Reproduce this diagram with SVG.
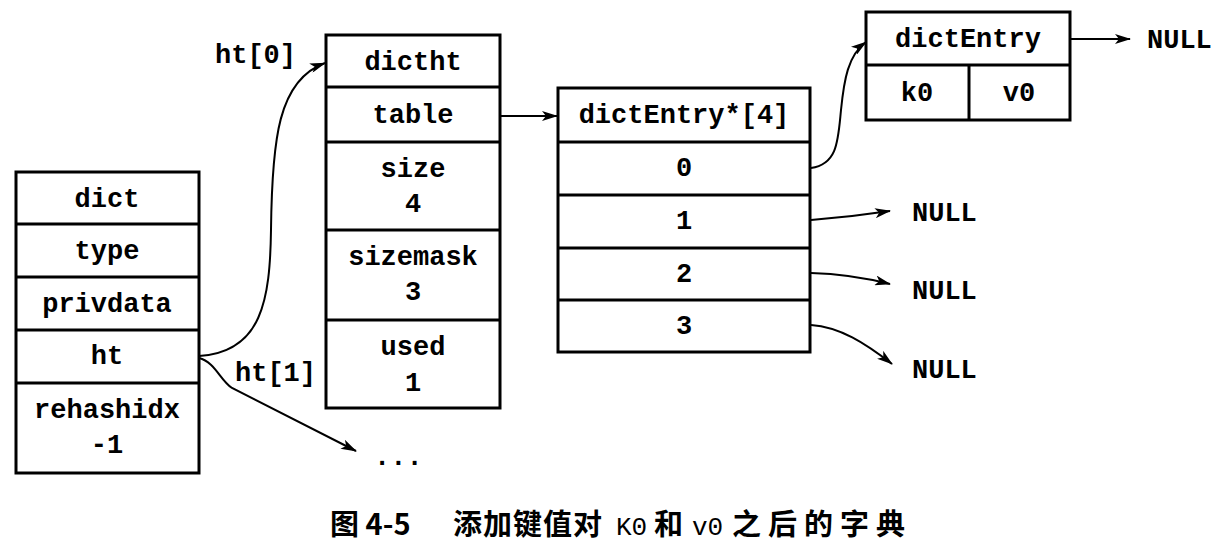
<svg xmlns="http://www.w3.org/2000/svg" width="1222" height="547" viewBox="0 0 1222 547">
<style>
.box{fill:#fff;stroke:#000;stroke-width:3}
.sep{stroke:#000;stroke-width:3}
.t{font-family:"Liberation Mono","DejaVu Sans Mono",monospace;font-size:27px;font-weight:bold;fill:#000;text-anchor:middle}
.l{font-family:"Liberation Mono","DejaVu Sans Mono",monospace;font-size:27px;font-weight:bold;fill:#000}
.c{fill:none;stroke:#000;stroke-width:2}
.cap{font-family:"Noto Sans CJK SC","Noto Sans",sans-serif;font-size:29px;font-weight:bold;fill:#000}
.capm{font-family:"Liberation Mono",monospace;font-size:26px;font-weight:normal;fill:#000}
</style>
<defs>
<marker id="ah" viewBox="0 0 16 10" refX="15" refY="5" markerWidth="16" markerHeight="10" markerUnits="userSpaceOnUse" orient="auto">
<path d="M0,0 L16,5 L0,10 L4,5 Z" fill="#000"/>
</marker>
</defs>
<rect width="1222" height="547" fill="#fff"/>

<g id="dict">
<rect class="box" x="16" y="172" width="183" height="301"/>
<line class="sep" x1="16" y1="224" x2="199" y2="224"/>
<line class="sep" x1="16" y1="277" x2="199" y2="277"/>
<line class="sep" x1="16" y1="330" x2="199" y2="330"/>
<line class="sep" x1="16" y1="383" x2="199" y2="383"/>
<text class="t" x="107" y="207">dict</text>
<text class="t" x="107" y="259">type</text>
<text class="t" x="107" y="312">privdata</text>
<text class="t" x="107" y="364">ht</text>
<text class="t" x="107" y="418">rehashidx</text>
<text class="t" x="107" y="453">-1</text>
</g>

<g id="dictht">
<rect class="box" x="326" y="35" width="174" height="373"/>
<line class="sep" x1="326" y1="87" x2="500" y2="87"/>
<line class="sep" x1="326" y1="142" x2="500" y2="142"/>
<line class="sep" x1="326" y1="230" x2="500" y2="230"/>
<line class="sep" x1="326" y1="320" x2="500" y2="320"/>
<text class="t" x="413" y="70">dictht</text>
<text class="t" x="413" y="123">table</text>
<text class="t" x="413" y="177">size</text>
<text class="t" x="413" y="212">4</text>
<text class="t" x="413" y="265">sizemask</text>
<text class="t" x="413" y="300">3</text>
<text class="t" x="413" y="355">used</text>
<text class="t" x="413" y="391">1</text>
</g>

<g id="table">
<rect class="box" x="558" y="88" width="252" height="264"/>
<line class="sep" x1="558" y1="142" x2="810" y2="142"/>
<line class="sep" x1="558" y1="195" x2="810" y2="195"/>
<line class="sep" x1="558" y1="248" x2="810" y2="248"/>
<line class="sep" x1="558" y1="300" x2="810" y2="300"/>
<text class="t" x="684" y="123">dictEntry*[4]</text>
<text class="t" x="684" y="176">0</text>
<text class="t" x="684" y="229">1</text>
<text class="t" x="684" y="282">2</text>
<text class="t" x="684" y="334">3</text>
</g>

<g id="entry">
<rect class="box" x="866" y="12" width="204" height="108"/>
<line class="sep" x1="866" y1="65" x2="1070" y2="65"/>
<line class="sep" x1="969" y1="65" x2="969" y2="120"/>
<text class="t" x="968" y="47">dictEntry</text>
<text class="t" x="917" y="101">k0</text>
<text class="t" x="1019" y="101">v0</text>
</g>

<g id="labels">
<text class="l" x="215" y="63">ht[0]</text>
<text class="l" x="235" y="381">ht[1]</text>
<text class="l" x="374" y="465">...</text>
<text class="l" x="1147" y="48">NULL</text>
<text class="l" x="912" y="221">NULL</text>
<text class="l" x="912" y="299">NULL</text>
<text class="l" x="912" y="378">NULL</text>
</g>

<g id="connectors">
<path class="c" d="M199,356 C262,352 270,300 271,230 C272,140 278,80 325,63" marker-end="url(#ah)"/>
<path class="c" d="M199,358 C215,362 220,380 232,388 L356,451" marker-end="url(#ah)"/>
<path class="c" d="M500,116 L557,116" marker-end="url(#ah)"/>
<path class="c" d="M811,168 C838,164 838,140 841,110 C844,80 848,55 866,42" marker-end="url(#ah)"/>
<path class="c" d="M811,220 Q850,217 890,211" marker-end="url(#ah)"/>
<path class="c" d="M811,273 Q850,274 890,284" marker-end="url(#ah)"/>
<path class="c" d="M811,325 C840,327 865,343 892,364" marker-end="url(#ah)"/>
<path class="c" d="M1071,39 L1130,39" marker-end="url(#ah)"/>
</g>

<g id="caption">
<text class="cap" x="330" y="535">图 4-5</text>
<text class="cap" x="453" y="535" letter-spacing="1">添加键值对</text>
<text class="capm" x="616" y="535">K0</text>
<text class="cap" x="654" y="535">和</text>
<text class="capm" x="692" y="535">v0</text>
<text class="cap" x="732" y="535" letter-spacing="7">之后的字典</text>
</g>
</svg>
